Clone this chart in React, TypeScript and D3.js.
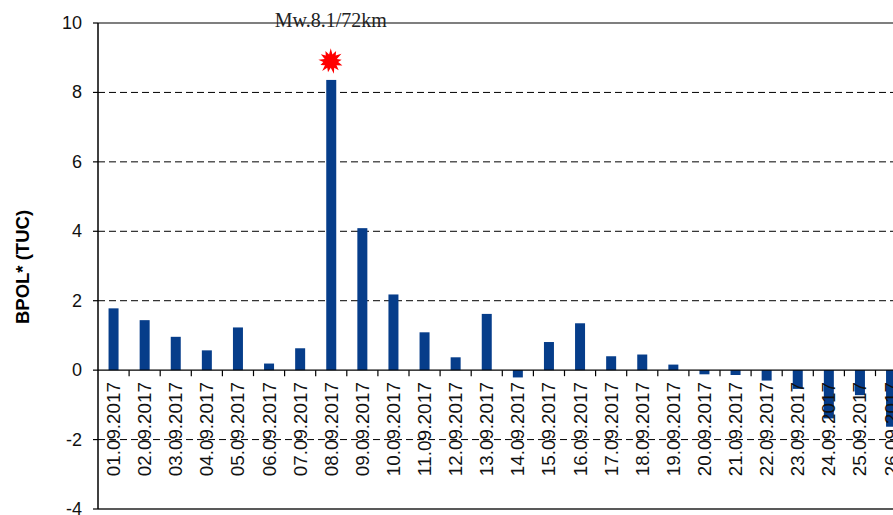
import React from "react";
import * as d3 from "d3";

const days = [
  "01.09.2017", "02.09.2017", "03.09.2017", "04.09.2017", "05.09.2017",
  "06.09.2017", "07.09.2017", "08.09.2017", "09.09.2017", "10.09.2017",
  "11.09.2017", "12.09.2017", "13.09.2017", "14.09.2017", "15.09.2017",
  "16.09.2017", "17.09.2017", "18.09.2017", "19.09.2017", "20.09.2017",
  "21.09.2017", "22.09.2017", "23.09.2017", "24.09.2017", "25.09.2017",
  "26.09.2017",
];
const bpol = [
  1.78, 1.44, 0.96, 0.57, 1.23, 0.19, 0.63, 8.36, 4.09, 2.18,
  1.09, 0.37, 1.62, -0.21, 0.81, 1.35, 0.40, 0.45, 0.16, -0.12,
  -0.14, -0.30, -0.54, -1.39, -0.72, -1.63,
];
const yTicks = [-4, -2, 0, 2, 4, 6, 8, 10];
const quakeDay = "08.09.2017";
const quakeLabel = "Mw.8.1/72km";

const W = 893;
const H = 515;
const left = 98;
const bandW = 31.1;
const top = 23;
const bottom = 509;

export default function App() {
  const x = d3
    .scaleBand<string>()
    .domain(days)
    .range([left, left + bandW * days.length])
    .paddingInner(0)
    .paddingOuter(0);
  const y = d3.scaleLinear().domain([-4, 10]).range([bottom, top]);
  const barW = 10;

  // irregular burst marker above the quake day
  const radii = [13, 7, 11.5, 7.5, 13, 6.5, 11, 7.5, 12.5, 7, 12, 7.5, 13, 6.5, 11.5, 7.5, 13, 7, 11, 7.5, 12.5, 6.5, 12, 7.5, 11.5, 7];
  const nPts = radii.length;
  const burst = d3
    .lineRadial<number>()
    .angle((_, i) => (i / nPts) * Math.PI * 2)
    .radius((d) => d)
    .curve(d3.curveLinearClosed)(radii);
  const qx = (x(quakeDay) ?? 0) + x.bandwidth() / 2;

  return (
    <svg
      width={W}
      height={H}
      style={{ position: "absolute", left: 0, top: 0, background: "#fff" }}
      fontFamily="Arial, 'Liberation Sans', sans-serif"
    >
      {/* dashed grid */}
      {yTicks
        .filter((t) => t !== 0 && t !== 10 && t !== -4)
        .map((t) => (
          <line
            key={"g" + t}
            x1={left}
            x2={W}
            y1={y(t)}
            y2={y(t)}
            stroke="#000"
            strokeWidth={1}
            strokeDasharray="7,4"
          />
        ))}
      {/* frame top and bottom */}
      <line x1={left} x2={W} y1={y(10)} y2={y(10)} stroke="#000" strokeWidth={1.2} />
      <line x1={left} x2={W} y1={y(-4)} y2={y(-4)} stroke="#222" strokeWidth={1.5} />

      {/* bars */}
      {days.map((d, i) => {
        const v = bpol[i];
        const cx = (x(d) ?? 0) + x.bandwidth() / 2;
        return (
          <rect
            key={d}
            x={cx - barW / 2}
            y={y(Math.max(0, v))}
            width={barW}
            height={Math.abs(y(v) - y(0))}
            fill="#063d8a"
          />
        );
      })}

      {/* zero line and category ticks */}
      <line x1={left} x2={W} y1={y(0)} y2={y(0)} stroke="#000" strokeWidth={1.3} />
      {days.map((d) => (
        <line
          key={"t" + d}
          x1={(x(d) ?? 0) + x.bandwidth()}
          x2={(x(d) ?? 0) + x.bandwidth()}
          y1={y(0)}
          y2={y(0) + 6}
          stroke="#000"
          strokeWidth={1.2}
        />
      ))}

      {/* category labels */}
      {days.map((d) => {
        const cx = (x(d) ?? 0) + x.bandwidth() / 2;
        const ly = y(0) + 12;
        return (
          <text
            key={"l" + d}
            transform={`translate(${cx},${ly}) rotate(-90)`}
            textAnchor="end"
            dominantBaseline="central"
            fontSize={19}
            textLength={94}
            lengthAdjust="spacingAndGlyphs"
            fill="#111"
          >
            {d}
          </text>
        );
      })}

      {/* y axis */}
      <line x1={left} x2={left} y1={top} y2={bottom} stroke="#000" strokeWidth={1.5} />
      {yTicks.map((t) => (
        <g key={"y" + t}>
          <line x1={left - 5} x2={left} y1={y(t)} y2={y(t)} stroke="#000" strokeWidth={1.2} />
          <text
            x={82}
            y={y(t)}
            textAnchor="end"
            dominantBaseline="central"
            fontSize={18}
            fill="#111"
          >
            {t}
          </text>
        </g>
      ))}
      <text
        transform={`translate(22,${267}) rotate(-90)`}
        textAnchor="middle"
        dominantBaseline="central"
        fontSize={18.5}
        fontWeight="bold"
        fill="#000"
      >
        BPOL* (TUC)
      </text>

      {/* earthquake marker */}
      <path d={burst ?? ""} transform={`translate(${qx - 0.5},${y(8.9)})`} fill="#ff0000" />
      <text
        x={qx - 0.5}
        y={27}
        textAnchor="middle"
        fontSize={20}
        fontFamily="'Liberation Serif', 'Times New Roman', serif"
        fill="#222"
      >
        {quakeLabel}
      </text>
    </svg>
  );
}
